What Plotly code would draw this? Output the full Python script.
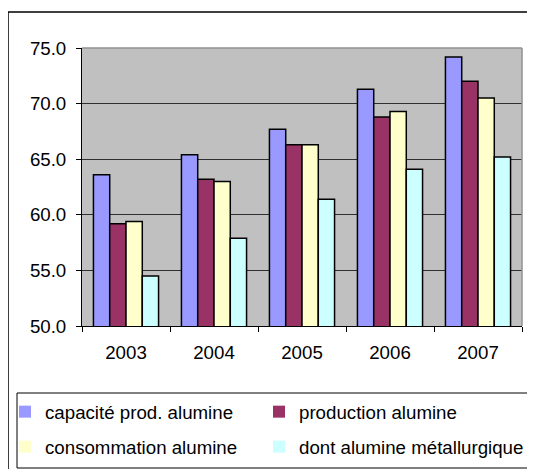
import plotly.graph_objects as go

years = ["2003", "2004", "2005", "2006", "2007"]
capacite = [63.6, 65.4, 67.7, 71.3, 74.2]
production = [59.2, 63.2, 66.3, 68.8, 72.0]
consommation = [59.4, 63.0, 66.3, 69.3, 70.5]
metallurgique = [54.5, 57.9, 61.4, 64.1, 65.2]

series_names = ["capacité prod. alumine", "production alumine",
                "consommation alumine", "dont alumine métallurgique"]
series_values = [capacite, production, consommation, metallurgique]
colors = ["#9999FF", "#993366", "#FFFFCC", "#CCFFFF"]
legend_ids = ["legend", "legend2", "legend3", "legend4"]

FONT = "Liberation Sans, Arial, sans-serif"
OFF = 8  # page body margin
W, H = 535 - OFF, 469 - OFF
L, T = 82 - OFF, 48 - OFF
PR, PB = 522 - OFF, 326 - OFF
R, B = W - PR, H - PB
pw, ph = PR - L, PB - T

def px_x(p):  # p in window pixels
    return (p - OFF - L) / pw

def px_y(p):
    return (PB - (p - OFF)) / ph

fig = go.Figure()
for name, vals, c in zip(series_names, series_values, colors):
    fig.add_trace(go.Bar(x=years, y=vals, name=name, showlegend=False,
                         marker=dict(color=c, line=dict(color="black", width=1.5))))
# legend swatches (no border)
for name, c, lg in zip(series_names, colors, legend_ids):
    fig.add_trace(go.Scatter(x=[None], y=[None], name=name, mode="markers",
                             legend=lg,
                             marker=dict(symbol="square", size=12, color=c)))

leg_common = dict(orientation="h", xanchor="left", yanchor="top",
                  borderwidth=0, bgcolor="rgba(0,0,0,0)",
                  font=dict(family=FONT, size=18.7, color="black"),
                  itemwidth=30)

fig.update_layout(
    width=W, height=H,
    margin=dict(l=L, r=R, t=T, b=B, autoexpand=False),
    paper_bgcolor="white", plot_bgcolor="#C0C0C0",
    barmode="group", bargap=0.26, bargroupgap=0,
    font=dict(family=FONT, size=18.7, color="black"),
    showlegend=True,
    legend=dict(x=px_x(5), y=px_y(393), **leg_common),
    legend2=dict(x=px_x(259), y=px_y(393), **leg_common),
    legend3=dict(x=px_x(5), y=px_y(428), **leg_common),
    legend4=dict(x=px_x(259), y=px_y(428), **leg_common),
    xaxis=dict(showline=True, linecolor="black", linewidth=1, ticks="outside",
               tickson="boundaries", ticklen=5, tickcolor="black",
               ticklabelstandoff=10, showgrid=False,
               tickfont=dict(family=FONT, size=18.7, color="black")),
    yaxis=dict(range=[50, 75], dtick=5, tick0=50, tickformat=".1f",
               showline=True, linecolor="black", linewidth=1, ticks="outside",
               ticklen=5, tickcolor="black", ticklabelstandoff=6,
               showgrid=True, gridcolor="#303030", gridwidth=1,
               zeroline=False,
               tickfont=dict(family=FONT, size=18.7, color="black")),
    shapes=[
        dict(type="line", xref="paper", yref="paper", x0=0, x1=1, y0=1, y1=1,
             line=dict(color="#909090", width=1.5), layer="above"),
        dict(type="line", xref="paper", yref="paper", x0=1, x1=1, y0=0, y1=1,
             line=dict(color="#909090", width=1.5), layer="above"),
        # outer chart frame
        dict(type="rect", xref="paper", yref="paper", x0=px_x(8), x1=px_x(560),
             y0=px_y(500), y1=px_y(12), line=dict(color="black", width=1.5),
             fillcolor="rgba(0,0,0,0)", layer="below"),
        # legend box
        dict(type="rect", xref="paper", yref="paper", x0=px_x(17), x1=px_x(530),
             y0=px_y(468), y1=px_y(393), line=dict(color="black", width=1),
             fillcolor="rgba(0,0,0,0)", layer="below"),
    ],
)

fig.write_html("out.html")
